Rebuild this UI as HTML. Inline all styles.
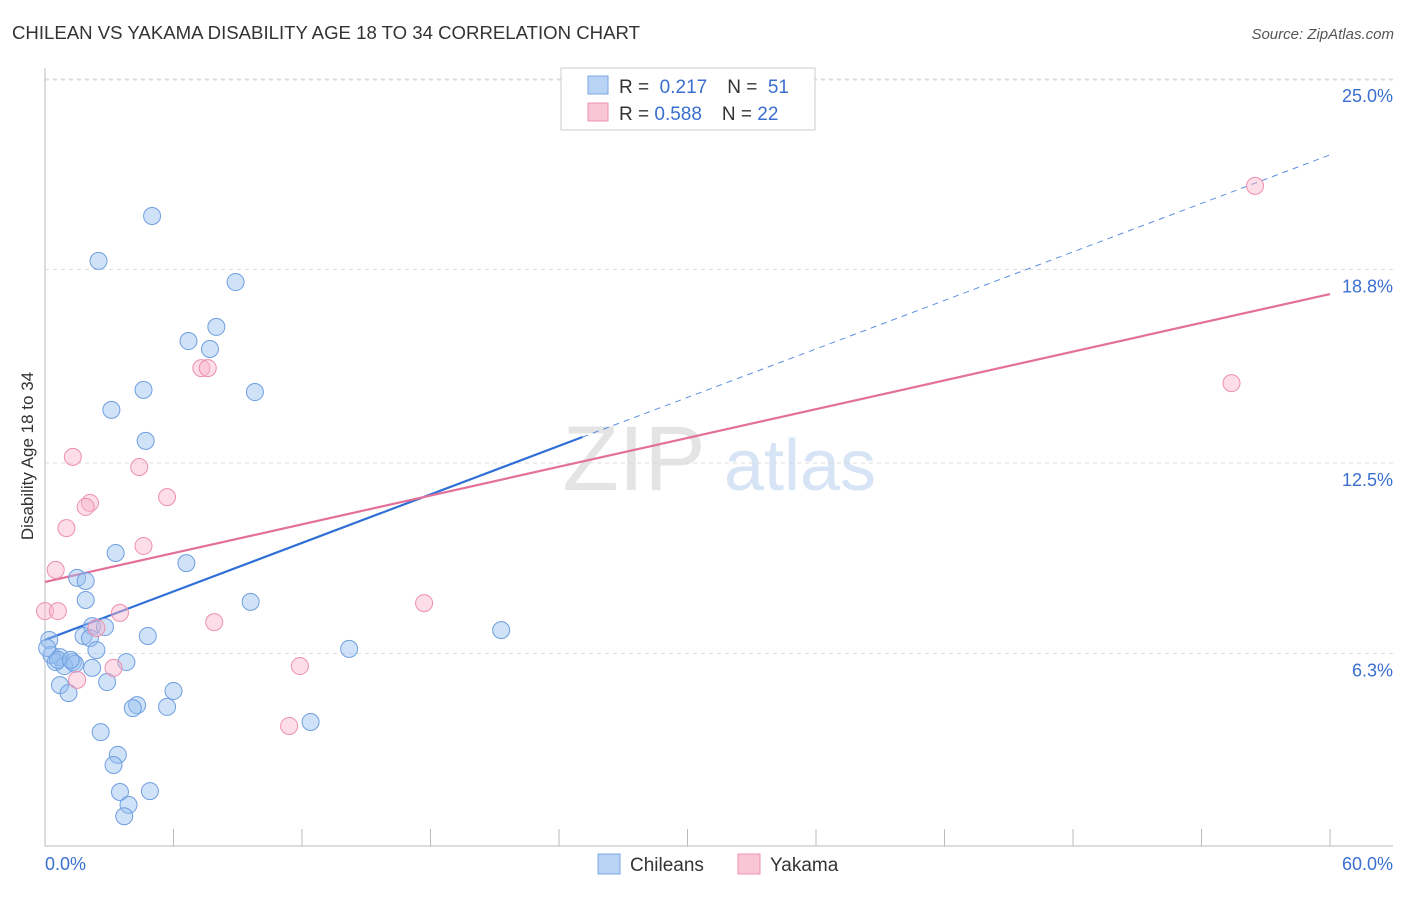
<!DOCTYPE html>
<html><head><meta charset="utf-8"><style>
body{margin:0;background:#fff;font-family:"Liberation Sans",sans-serif}
svg text{font-family:"Liberation Sans",sans-serif}
</style></head><body>
<svg id="c" width="1406" height="892">
<text x="12" y="39" font-size="18.6" fill="#333">CHILEAN VS YAKAMA DISABILITY AGE 18 TO 34 CORRELATION CHART</text>
<text x="1394" y="39" font-size="15" fill="#555" text-anchor="end" font-style="italic">Source: ZipAtlas.com</text>
<text x="634" y="490" font-size="92" fill="#e4e4e4" font-family="Liberation Serif" text-anchor="middle">ZIP</text>
<text x="800" y="490" font-size="72" fill="#d6e4f5" text-anchor="middle">atlas</text>
<g id="grid"></g><g id="axes"></g><g id="lines"></g><g id="pts"></g>
<text x="33" y="456" font-size="17" fill="#333" text-anchor="middle" transform="rotate(-90 33 456)">Disability Age 18 to 34</text>
<text x="45" y="870" font-size="18" fill="#3a6fd0">0.0%</text>
<text x="1393" y="870" font-size="18" fill="#3a6fd0" text-anchor="end">60.0%</text>
<g>
<rect x="561" y="68" width="254" height="62" fill="#fff" stroke="#ccc"/>
<rect x="588" y="76" width="20" height="18" fill="#b9d3f5" stroke="#7aa7e6"/>
<rect x="588" y="103" width="20" height="18" fill="#f9c6d6" stroke="#ee93b0"/>
<text x="619" y="93" font-size="19" fill="#333">R = <tspan fill="#3a6fd0">&#160;0.217</tspan><tspan dx="20">N = </tspan><tspan fill="#3a6fd0">&#160;51</tspan></text>
<text x="619" y="120" font-size="19" fill="#333">R = <tspan fill="#3a6fd0">0.588</tspan><tspan dx="20">N = </tspan><tspan fill="#3a6fd0">22</tspan></text>
</g>
<g>
<rect x="598" y="854" width="22" height="20" fill="#b9d3f5" stroke="#7aa7e6"/>
<text x="630" y="871" font-size="19" fill="#333">Chileans</text>
<rect x="738" y="854" width="22" height="20" fill="#f9c6d6" stroke="#ee93b0"/>
<text x="770" y="871" font-size="19" fill="#333">Yakama</text>
</g>
</svg>
<script>
const yTicks=[6.3,12.5,18.8,25.0];
const yTickLabels=["6.3%","12.5%","18.8%","25.0%"];
const xTicks=[0,6,12,18,24,30,36,42,48,54,60];
const blueX=[5.0,2.5,8.9,8.0,6.7,7.7,4.6,9.8,3.1,4.7,3.3,6.6,1.5,1.9,1.9,9.6,21.3,2.2,2.8,4.8,1.8,2.1,0.2,14.2,2.4,0.3,0.7,0.5,1.3,0.9,1.4,2.2,3.8,2.9,0.7,6.0,1.1,4.3,4.1,5.7,12.4,2.6,3.4,3.2,3.5,4.9,3.9,3.7,0.6,0.1,1.2];
const blueY=[20.54,19.08,18.39,16.93,16.47,16.21,14.88,14.81,14.23,13.22,9.57,9.24,8.76,8.66,8.04,7.98,7.06,7.19,7.16,6.87,6.87,6.8,6.74,6.45,6.41,6.25,6.18,6.02,6.02,5.89,5.96,5.83,6.02,5.37,5.27,5.08,5.01,4.62,4.52,4.56,4.07,3.74,3.0,2.67,1.79,1.82,1.37,1.0,6.09,6.48,6.09];
const pinkX=[56.5,55.4,7.3,7.6,1.3,4.4,5.7,2.1,1.9,1.0,4.6,0.5,0.0,0.6,3.5,2.4,7.9,17.7,11.9,3.2,1.5,11.4];
const pinkY=[21.52,15.1,15.59,15.59,12.7,12.37,11.39,11.2,11.07,10.38,9.8,9.02,7.68,7.68,7.62,7.13,7.32,7.94,5.89,5.83,5.44,3.94];
const blueLine=[6.74,22.53], pinkLine=[8.63,18.0];
const X=v=>45+v*21.417, Y=v=>847-v*30.72;
const NS="http://www.w3.org/2000/svg";
function mk(p,t,a){const e=document.createElementNS(NS,t);for(const k in a)e.setAttribute(k,a[k]);document.getElementById(p).appendChild(e);return e;}
let g=mk('grid','line',{x1:45,x2:1393,y1:80,y2:80,stroke:'#ddd','stroke-dasharray':'4,4'});


yTicks.forEach((t,i)=>{
 const l=mk('grid','line',{x1:45,x2:1393,y1:Y(t),y2:Y(t),stroke:'#ddd','stroke-dasharray':'4,4'});
 
 
 const tx=mk('grid','text',{x:1393,y:Y(t)+23,'font-size':18,fill:'#3a6fd0','text-anchor':'end'});
 tx.textContent=yTickLabels[i];
 
 
});
let a=mk('axes','line',{x1:45,x2:45,y1:68,y2:846,stroke:'#bbb'});


a=mk('axes','line',{x1:45,x2:1393,y1:846,y2:846,stroke:'#bbb'});


xTicks.forEach(t=>{const l=mk('axes','line',{x1:X(t),x2:X(t),y1:829,y2:846,stroke:'#bbb'});
 
 });
const bx=25.1;
let ln=mk('lines','line',{x1:X(0),y1:Y(blueLine[0]),x2:X(bx),y2:Y(blueLine[0]+(blueLine[1]-blueLine[0])*bx/60),stroke:'#2f6fd6','stroke-width':2.2});


ln=mk('lines','line',{x1:X(bx),y1:Y(blueLine[0]+(blueLine[1]-blueLine[0])*bx/60),x2:X(60),y2:Y(blueLine[1]),stroke:'#5b8fe0','stroke-width':1,'stroke-dasharray':'6,5'});


ln=mk('lines','line',{x1:X(0),y1:Y(pinkLine[0]),x2:X(60),y2:Y(pinkLine[1]),stroke:'#e4709a','stroke-width':2.2});


blueX.forEach((v,i)=>{const c=mk('pts','circle',{cx:X(v),cy:Y(blueY[i]),r:8.5,fill:'rgba(150,190,240,0.45)',stroke:'#6f9fe0','stroke-width':1});
 
 });
pinkX.forEach((v,i)=>{const c=mk('pts','circle',{cx:X(v),cy:Y(pinkY[i]),r:8.5,fill:'rgba(248,180,205,0.45)',stroke:'#ec90b0','stroke-width':1});
 
 });
</script>
</body></html>
